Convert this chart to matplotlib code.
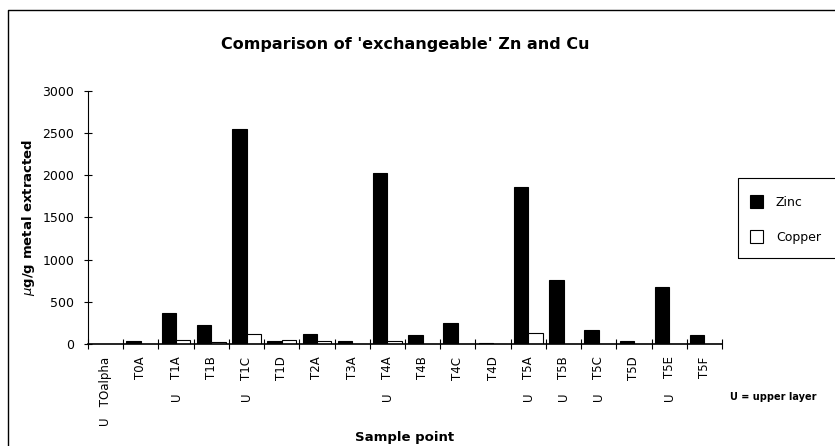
import numpy as np
import matplotlib
matplotlib.use('Agg')
import matplotlib.pyplot as plt
from matplotlib.patches import Rectangle
from matplotlib.lines import Line2D

samples = ['TOalpha', 'T0A', 'T1A', 'T1B', 'T1C', 'T1D', 'T2A', 'T3A', 'T4A',
           'T4B', 'T4C', 'T4D', 'T5A', 'T5B', 'T5C', 'T5D', 'T5E', 'T5F']
zinc = [0, 30, 367, 225, 2544, 40, 122, 40, 2022, 103, 252, 15, 1864, 758, 170, 30, 680, 103]
copper = [0, 5, 45, 20, 118, 50, 38, 5, 32, 5, 0, 5, 127, 0, 0, 0, 0, 0]
upper = ['T1A', 'T1C', 'T4A', 'T5A', 'T5B', 'T5C', 'T5E']

plt.rcParams['font.family'] = 'DejaVu Sans'
fig = plt.figure(figsize=(8.35, 4.46), dpi=100)
ax = fig.add_axes([88/835, 102/446, 634/835, 253.3/446])

x = np.arange(len(samples))
w = 0.41
ax.bar(x - w/2, zinc, w, color='black', edgecolor='black', linewidth=0.8, label='Zinc')
ax.bar(x + w/2, copper, w, color='white', edgecolor='black', linewidth=0.8, label='Copper')

ax.set_xlim(-0.5, len(samples) - 0.5)
ax.set_ylim(0, 3000)
ax.set_yticks(np.arange(0, 3001, 500))
ax.tick_params(axis='y', direction='inout', length=6, labelsize=9, width=0.8, pad=7)
ax.set_xticks(x)
labels = ['U   TOalpha' if s == 'TOalpha' else s for s in samples]
ax.set_xticklabels(labels, rotation=90, fontsize=8.5)
ax.tick_params(axis='x', length=0, pad=9)
ax.set_xticks(np.arange(-0.5, len(samples)), minor=True)
ax.tick_params(axis='x', which='minor', direction='inout', length=7, width=0.8)
for s in ['top', 'right']:
    ax.spines[s].set_visible(False)
ax.spines['left'].set_linewidth(0.8)
ax.spines['bottom'].set_linewidth(1.2)

tr = ax.get_xaxis_transform()
for s in upper:
    ax.text(samples.index(s), -0.21, 'U', rotation=90, ha='center', va='center',
            fontsize=8.5, transform=tr)
fig.text(730/835, 1 - 397/446, 'U = upper layer', fontsize=7, fontweight='bold',
         va='center')

fig.text(405/835, 1 - 44/446, "Comparison of 'exchangeable' Zn and Cu",
         ha='center', va='center', fontsize=11.5, fontweight='bold')
fig.text(405/835, 1 - 437/446, 'Sample point', ha='center', va='center',
         fontsize=9.5, fontweight='bold')
fig.text(29/835, 1 - 217/446, r'$\mu$g/g metal extracted', rotation=90,
         ha='center', va='center', fontsize=9.5, fontweight='bold')

# legend box, running off the right edge like the scan
fig.patches.append(Rectangle((738/835, 1 - 258/446), 110/835, 80/446,
                             transform=fig.transFigure, fill=False,
                             edgecolor='black', linewidth=0.8))
fig.patches.append(Rectangle((750/835, 1 - 208/446), 13/835, 13/446,
                             transform=fig.transFigure, facecolor='black',
                             edgecolor='black', linewidth=0.8))
fig.patches.append(Rectangle((750/835, 1 - 243/446), 13/835, 13/446,
                             transform=fig.transFigure, facecolor='white',
                             edgecolor='black', linewidth=0.8))
fig.text(776/835, 1 - 202/446, 'Zinc', fontsize=9, va='center')
fig.text(776/835, 1 - 237/446, 'Copper', fontsize=9, va='center')

# outer frame of the scanned chart
fig.lines.append(Line2D([8/835, 8/835, 1], [0, 1 - 10/446, 1 - 10/446],
                        transform=fig.transFigure, color='black', linewidth=1))

plt.savefig('out.png', dpi=100)
